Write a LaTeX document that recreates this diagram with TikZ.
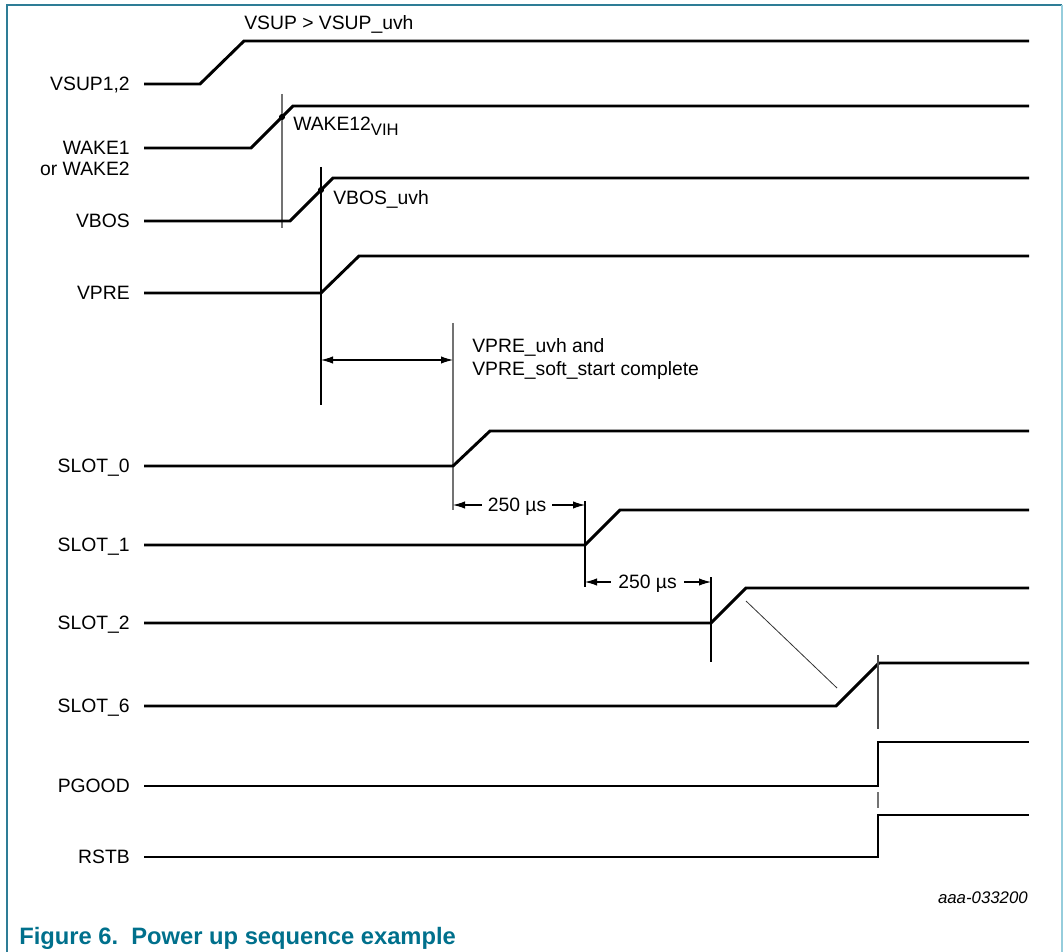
\documentclass[tikz,border=0pt]{standalone}
\usepackage{fontspec}
\setmainfont{Liberation Sans}
\usetikzlibrary{arrows.meta, positioning}
\definecolor{captionteal}{RGB}{0,112,140}
\definecolor{framedark}{RGB}{46,125,150}
\definecolor{framelight}{RGB}{150,205,220}

\begin{document}
\begin{tikzpicture}[x=0.75pt, y=-0.75pt, >={Latex[length=9pt,width=5.5pt]},
	sig/.style={line width=2.2pt},
	lbl/.style={font=\fontsize{14.5}{17.25}\selectfont, inner sep=0pt, text height=10.4pt, text depth=0pt},
	vline/.style={line width=0.8pt},
	greyline/.style={line width=0.8pt, black!55},
	dimtxt/.style={lbl, inner xsep=4.5pt}]
		\useasboundingbox (0,0) rectangle (1064,952);
		% frame
		\draw[framedark, line width=1.5pt] (7,952) -- (7,5) -- (1062,5);
		\draw[framelight, line width=1.5pt] (1062,5) -- (1062,952);

		% VSUP
		\node[lbl, anchor=east] (vsup) at (130,84) {VSUP1,2};
		\draw[sig] (144,84) -- (200,84) -- (244,41) -- (1029,41);
		\node[lbl, anchor=west] (vsupuvh) at (244,23) {VSUP > VSUP\_uvh};

		% WAKE
		\node[lbl, anchor=east] (wake) at (130,148) {WAKE1};
		\node[lbl, anchor=east] (wakeb) at (130,169) {or WAKE2};
		\draw[sig] (144,148) -- (251,148) -- (293,106) -- (1029,106);
		\coordinate (twaketop) at (282,94); \coordinate (twakebot) at (282,228);
		\draw[greyline] (twaketop) -- (twakebot);
		\fill (282,117) circle (2.3pt);
		\node[lbl, anchor=west] (wakevih) at (293,124) {WAKE12\raisebox{-3.5pt}{\fontsize{12.5}{12.5}\selectfont VIH}};

		% VBOS
		\node[lbl, anchor=east] (vbos) at (130,221) {VBOS};
		\draw[sig] (144,221) -- (290,221) -- (333,178) -- (1029,178);
		\coordinate (tvbostop) at (321,167); \coordinate (tvbosbot) at (321,405);
		\draw[vline] (tvbostop) -- (tvbosbot);
		\fill (321,190) circle (2.3pt);
		\node[lbl, anchor=west] (vbosuvh) at (333,198) {VBOS\_uvh};

		% VPRE
		\node[lbl, anchor=east] (vpre) at (130,293) {VPRE};
		\draw[sig] (144,293) -- (321,293) -- (359,256) -- (1029,256);
		\coordinate (ts0top) at (453,323); \coordinate (ts0bot) at (453,510);
		\draw[greyline] (ts0top) -- (ts0bot);
		\coordinate (dvpre) at (321,360); \coordinate (ds0) at (453,360);
		\draw[vline, <->] (dvpre) -- (ds0);
		\node[font=\fontsize{14.5}{17.25}\selectfont, inner sep=0pt, align=left, anchor=west] (vpreuvh) at (472,359.5) {VPRE\_uvh and\\VPRE\_soft\_start complete};

		% SLOT_0
		\node[lbl, anchor=east] (slot0) at (130,466) {SLOT\_0};
		\draw[sig] (144,466) -- (453,466) -- (490,431) -- (1029,431);
		\node[dimtxt] (dly1) at (517,505) {250 µs};
		\coordinate (d1a) at (453,505); \coordinate (d1b) at (585,505);
		\draw[vline, ->] (dly1.west) -- (d1a); \draw[vline, ->] (dly1.east) -- (d1b);

		% SLOT_1
		\node[lbl, anchor=east] (slot1) at (130,545) {SLOT\_1};
		\draw[sig] (144,545) -- (585,545) -- (620,510) -- (1029,510);
		\coordinate (ts1top) at (585,501); \coordinate (ts1bot) at (585,587);
		\draw[vline] (ts1top) -- (ts1bot);
		\node[dimtxt, inner xsep=5.5pt] (dly2) at (647.5,582) {250 µs};
		\coordinate (d2a) at (585,582); \coordinate (d2b) at (711,582);
		\draw[vline, ->] (dly2.west) -- (d2a); \draw[vline, ->] (dly2.east) -- (d2b);

		% SLOT_2
		\node[lbl, anchor=east] (slot2) at (130,623) {SLOT\_2};
		\draw[sig] (144,623) -- (711,623) -- (746,588) -- (1029,588);
		\coordinate (ts2top) at (711,577); \coordinate (ts2bot) at (711,662);
		\draw[vline] (ts2top) -- (ts2bot);
		\coordinate (slant2) at (746,601); \coordinate (slant6) at (837,688);
		\draw[line width=0.6pt, black!80] (slant2) -- (slant6);

		% SLOT_6
		\node[lbl, anchor=east] (slot6) at (130,706) {SLOT\_6};
		\draw[sig] (144,706) -- (836,706) -- (879,663) -- (1029,663);
		\coordinate (ts6top) at (878,655); \coordinate (ts6bot) at (878,729);
		\draw[greyline, black!70] (ts6top) -- (ts6bot);

		% PGOOD, RSTB
		\node[lbl, anchor=east] (pgood) at (130,786) {PGOOD};
		\draw[sig] (144,786) -- (878,786) -- (878,742) -- (1029,742);
		\coordinate (tpgtop) at (878,792); \coordinate (tpgbot) at (878,808);
		\draw[greyline] (tpgtop) -- (tpgbot);
		\node[lbl, anchor=east] (rstb) at (130,857) {RSTB};
		\draw[sig] (144,857) -- (878,857) -- (878,815) -- (1029,815);

		\node[font=\fontsize{12.6}{14}\selectfont\itshape, inner sep=0pt, anchor=east] (docid) at (1028,898) {aaa-033200};
		\node[font=\fontsize{17.8}{20}\selectfont\bfseries, text=captionteal, inner sep=0pt, anchor=base west] (caption) at (19,944) {Figure 6.\ \ Power up sequence example};
	\end{tikzpicture}
\end{document}
